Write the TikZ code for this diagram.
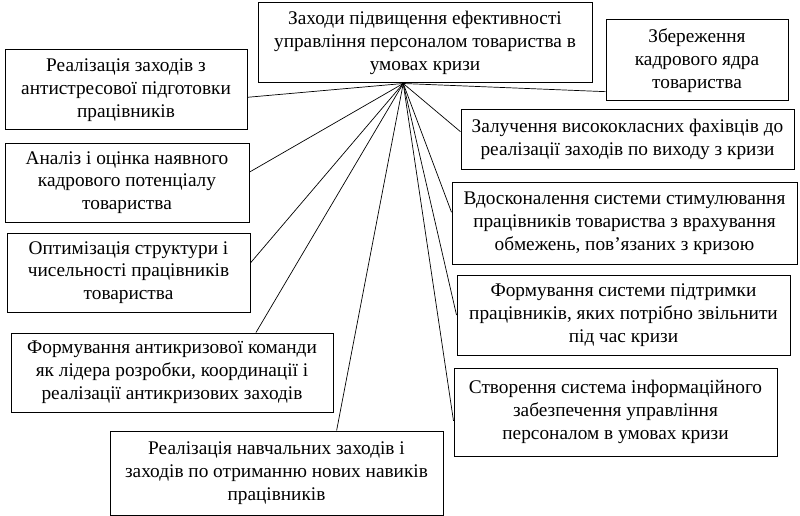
\documentclass[tikz,border=0pt]{standalone}
\usepackage{fontspec}
\setmainfont{Liberation Serif}
\usetikzlibrary{calc}
\begin{document}
\begin{tikzpicture}[x=1pt,y=-1pt,
  box/.style={draw, line width=1pt, align=center, inner sep=0pt,
    font=\fontsize{19.3}{22.8}\selectfont},
  link/.style={line width=0.7pt}]
\useasboundingbox (0,0) rectangle (800,516);
\node[box, minimum width=334pt, minimum height=80pt] (T) at (425,43)
  {Заходи підвищення ефективності\\управління персоналом товариства в\\умовах кризи};
\node[box, minimum width=242pt, minimum height=80pt] (L1) at (126,90)
  {Реалізація заходів з\\антистресової підготовки\\працівників};
\node[box, minimum width=244pt, minimum height=79pt] (L2) at (127,182.5)
  {Аналіз і оцінка наявного\\кадрового потенціалу\\товариства};
\node[box, minimum width=243pt, minimum height=79pt] (L3) at (128.5,272.5)
  {Оптимізація структури і\\чисельності працівників\\товариства};
\node[box, minimum width=322pt, minimum height=79pt] (L4) at (172,372.5)
  {Формування антикризової команди\\як лідера розробки, координації і\\реалізації антикризових заходів};
\node[box, minimum width=333pt, minimum height=84pt] (L5) at (276.5,473)
  {Реалізація навчальних заходів і\\заходів по отриманню нових навиків\\працівників};
\node[box, minimum width=182pt, minimum height=81pt] (A) at (697,60.5)
  {Збереження\\кадрового ядра\\товариства};
\node[box, minimum width=333pt, minimum height=59pt] (B) at (627.5,139.5)
  {Залучення висококласних фахівців до\\реалізації заходів по виходу з кризи};
\node[box, minimum width=345pt, minimum height=82pt] (C) at (624.5,223)
  {Вдосконалення системи стимулювання\\працівників товариства з врахування\\обмежень, пов’язаних з кризою};
\node[box, minimum width=333pt, minimum height=80pt] (D) at (623.5,315)
  {Формування системи підтримки\\працівників, яких потрібно звільнити\\під час кризи};
\node[box, minimum width=323pt, minimum height=88pt] (E) at (615.5,412)
  {Створення система інформаційного\\забезпечення управління\\персоналом в умовах кризи};
\coordinate (hub) at ($(T.south west)!0.435!(T.south east)$);
\draw[link] (hub) -- ($(L1.north east)!0.59!(L1.south east)$);
\draw[link] (hub) -- ($(L2.north east)!0.37!(L2.south east)$);
\draw[link] (hub) -- ($(L3.north east)!0.38!(L3.south east)$);
\draw[link] (hub) -- ($(L4.north west)!0.76!(L4.north east)$);
\draw[link] (hub) -- ($(L5.north west)!0.68!(L5.north east)$);
\draw[link] (hub) -- ($(A.north west)!0.88!(A.south west)$);
\draw[link] (hub) -- ($(B.north west)!0.37!(B.south west)$);
\draw[link] (hub) -- ($(C.north west)!0.37!(C.south west)$);
\draw[link] (hub) -- (D.west);
\draw[link] (hub) -- ($(E.north west)!0.6!(E.south west)$);
\end{tikzpicture}
\end{document}
